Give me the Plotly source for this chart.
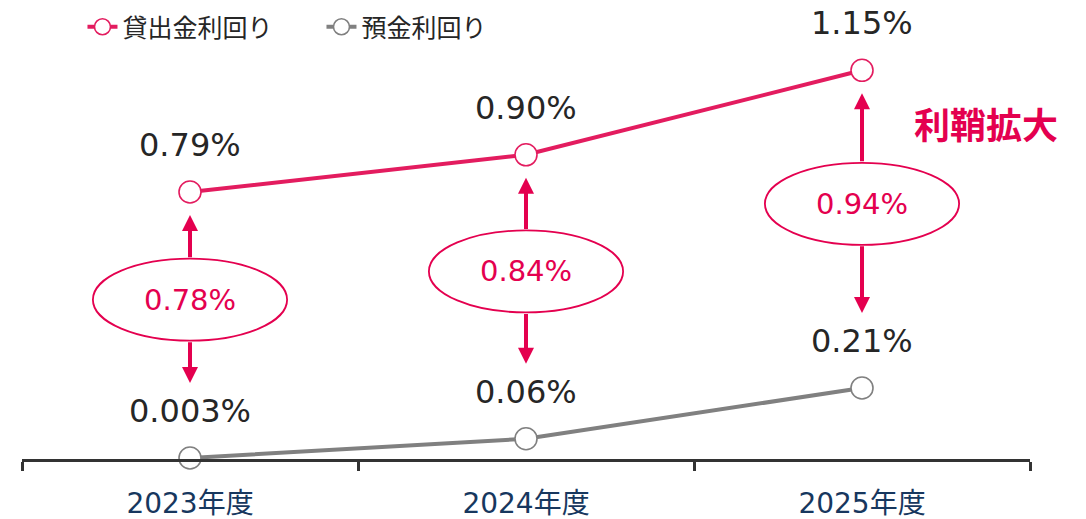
import plotly.graph_objects as go

categories = ["2023年度", "2024年度", "2025年度"]
lending = [0.79, 0.90, 1.15]
deposit = [0.003, 0.06, 0.21]
lending_labels = ["0.79%", "0.90%", "1.15%"]
deposit_labels = ["0.003%", "0.06%", "0.21%"]
spread_labels = ["0.78%", "0.84%", "0.94%"]
series_names = ["貸出金利回り", "預金利回り"]
callout = "利鞘拡大"

RED_LINE = "#E31C5F"
RED = "#E4004F"
GRAY = "#808080"
TXT = "#262626"
FONT = "DejaVu Sans, Noto Sans CJK JP, sans-serif"

xs = list(range(len(categories)))
PX_PER_UNIT = 338.0
PLOT_H = 419

fig = go.Figure()
fig.add_trace(go.Scatter(
    x=xs, y=lending, name=series_names[0], mode="lines+markers",
    line=dict(color=RED_LINE, width=4),
    marker=dict(size=22, color="white", line=dict(color=RED_LINE, width=1.6)),
    cliponaxis=False, hoverinfo="skip"))
fig.add_trace(go.Scatter(
    x=xs, y=deposit, name=series_names[1], mode="lines+markers",
    line=dict(color=GRAY, width=4),
    marker=dict(size=22, color="white", line=dict(color=GRAY, width=1.6)),
    cliponaxis=False, hoverinfo="skip"))

annotations = []
shapes = []
ell_hw = 0.289
ell_hh = 41 / PX_PER_UNIT
for i, x in enumerate(xs):
    annotations.append(dict(x=x, y=lending[i], text=lending_labels[i], showarrow=False,
                            yshift=47, font=dict(size=32, color=TXT, family=FONT)))
    annotations.append(dict(x=x, y=deposit[i], text=deposit_labels[i], showarrow=False,
                            yshift=47, font=dict(size=32, color=TXT, family=FONT)))
    c = (lending[i] + deposit[i]) / 2 + 0.075
    shapes.append(dict(type="circle", xref="x", yref="y",
                       x0=x - ell_hw, x1=x + ell_hw, y0=c - ell_hh, y1=c + ell_hh,
                       line=dict(color=RED, width=1.8), fillcolor="white", layer="above"))
    annotations.append(dict(x=x, y=c, text=spread_labels[i], showarrow=False,
                            font=dict(size=29, color=RED, family=FONT)))
    # up arrow
    annotations.append(dict(x=x, y=lending[i], ax=x, ay=c + ell_hh, axref="x", ayref="y",
                            xref="x", yref="y", text="", showarrow=True, arrowhead=2,
                            arrowsize=0.8, arrowwidth=4, arrowcolor=RED, standoff=23))
    # down arrow
    annotations.append(dict(x=x, y=deposit[i], ax=x, ay=c - ell_hh, axref="x", ayref="y",
                            xref="x", yref="y", text="", showarrow=True, arrowhead=2,
                            arrowsize=0.8, arrowwidth=4, arrowcolor=RED, standoff=75))

annotations.append(dict(x=2.369, y=0.994, xref="x", yref="y", text="<b>" + callout + "</b>",
                        showarrow=False,
                        font=dict(size=36, color=RED, family="Noto Sans CJK JP, sans-serif")))

fig.update_layout(
    width=1086, height=519,
    margin=dict(l=22, r=56, t=40, b=60, autoexpand=False),
    plot_bgcolor="white", paper_bgcolor="white",
    showlegend=True,
    legend=dict(orientation="h", x=0.06, xanchor="left", y=1.031, yanchor="middle",
                font=dict(size=25, color=TXT, family=FONT), bgcolor="rgba(0,0,0,0)",
                entrywidth=194, entrywidthmode="pixels",
                itemclick=False),
    xaxis=dict(range=[-0.5, 2.5], tickmode="array", tickvals=xs, ticktext=categories,
               ticks="", showgrid=False, zeroline=False, showline=True,
               linecolor="#333333", linewidth=3, ticklabelstandoff=17,
               tickfont=dict(size=28, color="#17375E", family=FONT),
               minor=dict(ticks="outside", ticklen=9, tickwidth=3, tickcolor="#333333",
                          tickmode="linear", tick0=-0.5, dtick=1, showgrid=False)),
    yaxis=dict(range=[0, PLOT_H / PX_PER_UNIT], visible=False, showgrid=False, zeroline=False),
    shapes=shapes, annotations=annotations,
)

fig.write_html("out.html")
